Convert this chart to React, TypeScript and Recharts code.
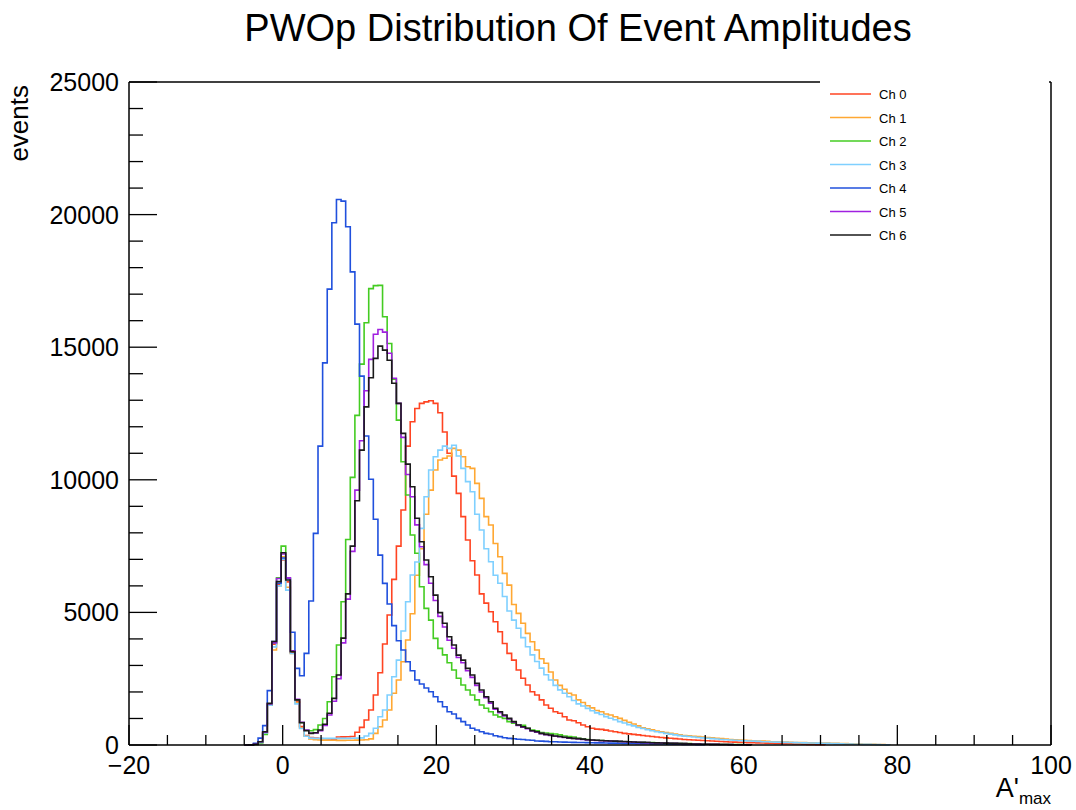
import React from 'react';
import { LineChart, Line, XAxis, YAxis, ReferenceLine } from 'recharts';

// bins of 0.6 starting at x = -5.0
const BIN = 0.6;
const START = -5.0;

const channels = ['Ch 0', 'Ch 1', 'Ch 2', 'Ch 3', 'Ch 4', 'Ch 5', 'Ch 6'];
const colors = ['#ff4422', '#ffa833', '#44cc22', '#7fd0ff', '#2050dd', '#a020e0', '#1a1a1a'];

const ch0 = [
  0, 5, 25, 100, 450, 1500, 3800, 6050, 6975, 6150,
  3480, 1650, 700, 360, 280, 260, 245, 235, 225, 215,
  300, 305, 310, 320, 480, 665, 940, 1320, 1885, 2725,
  3810, 4900, 6245, 7500, 8860, 11270, 12190, 12690, 12880, 12940,
  12980, 12880, 12530, 11800, 11000, 10140, 9490, 8610, 7730, 6950,
  6410, 5700, 5350, 5025, 4650, 4270, 3830, 3455, 3200, 2830,
  2515, 2260, 2010, 1885, 1700, 1510, 1385, 1255, 1195, 1065,
  940, 915, 840, 755, 690, 630, 600, 590, 560, 530,
  500, 470, 440, 420, 400, 380, 360, 340, 320, 300,
  285, 270, 255, 240, 225, 210, 200, 190, 180, 170,
  160, 150, 140, 130, 125, 115, 110, 100, 95, 90,
  85, 80, 75, 70, 65, 60, 55, 50, 45, 40,
  35, 30, 25, 20, 15, 10,
];

const ch1 = [
  0, 5, 25, 110, 470, 1550, 3580, 6000, 7100, 5950,
  3450, 1600, 650, 330, 230, 200, 190, 185, 180, 180,
  175, 175, 180, 180, 185, 190, 200, 230, 440, 690,
  940, 1320, 1950, 2450, 3140, 3960, 4950, 6400, 7400, 8700,
  9610, 10370, 10745, 10810, 10900, 11185, 11120, 10870, 10490, 10430,
  9865, 9300, 8610, 8295, 7600, 7100, 6470, 6030, 5300, 4965,
  4590, 4210, 3895, 3580, 3250, 3080, 2750, 2450, 2250, 2100,
  1950, 1885, 1700, 1600, 1480, 1400, 1300, 1255, 1170, 1130,
  1065, 1005, 930, 860, 790, 720, 650, 610, 570, 530,
  500, 470, 440, 410, 380, 360, 345, 330, 315, 300,
  285, 270, 255, 240, 225, 210, 200, 190, 180, 170,
  160, 150, 145, 135, 125, 120, 115, 110, 100, 95,
  90, 88, 85, 80, 78, 75, 70, 65, 60, 55,
  50, 45, 40, 35, 30, 28, 25, 20, 15, 10,
];

const ch2 = [
  0, 5, 20, 80, 400, 1500, 3850, 6300, 7500, 6300,
  3550, 1700, 850, 560, 540, 580, 755, 1000, 1630, 2575,
  3770, 5400, 7750, 10090, 12430, 14360, 15920, 17210, 17320, 17330,
  16150, 15140, 13790, 12250, 10680, 9425, 7920, 7230, 5970, 5150,
  4710, 4020, 3645, 3400, 3100, 2830, 2515, 2260, 2075, 1885,
  1700, 1510, 1385, 1255, 1130, 1060, 1005, 880, 820, 755,
  740, 630, 565, 540, 465, 450, 430, 415, 380, 340,
  320, 300, 250, 230, 210, 190, 180, 170, 160, 150,
  140, 130, 125, 120, 110, 105, 100, 95, 90, 85,
  80, 75, 70, 65, 60, 55, 50, 45, 40, 35,
  32, 30, 28, 25, 22, 20, 18, 15, 12, 10,
];

const ch3 = [
  0, 5, 25, 100, 450, 1500, 3700, 6000, 7000, 5840,
  3450, 1550, 620, 330, 260, 250, 250, 250, 250, 250,
  250, 250, 250, 255, 260, 270, 340, 440, 630, 1065,
  1320, 1885, 2575, 3200, 4300, 5400, 6410, 6900, 8170, 9360,
  10370, 10870, 11120, 11270, 11185, 11300, 10900, 10430, 9930, 9550,
  8700, 8105, 7400, 6910, 6400, 6100, 5600, 5050, 4710, 4400,
  4050, 3705, 3400, 3150, 2900, 2650, 2450, 2250, 2080, 1950,
  1820, 1680, 1550, 1470, 1380, 1290, 1210, 1150, 1070, 1010,
  950, 880, 830, 770, 720, 660, 620, 580, 540, 500,
  470, 440, 410, 380, 355, 335, 320, 300, 285, 270,
  255, 240, 225, 210, 200, 190, 180, 170, 160, 150,
  145, 135, 125, 120, 115, 110, 105, 100, 95, 90,
  85, 80, 78, 75, 70, 65, 60, 55, 50, 45,
  40, 35, 30, 28, 25, 22, 20, 15, 10, 5,
];

const ch4 = [
  0, 10, 60, 260, 730, 2050, 3900, 6100, 7050, 6280,
  4250, 2890, 2610, 3455, 5430, 7980, 11270, 14410, 17190, 19690,
  20570, 20510, 19540, 17840, 15870, 13910, 11650, 10020, 8510, 7160,
  6095, 5315, 4500, 3930, 3580, 3140, 2800, 2450, 2300, 2150,
  2010, 1820, 1630, 1445, 1255, 1170, 1005, 880, 755, 630,
  565, 500, 440, 415, 350, 315, 275, 250, 238, 215,
  205, 190, 180, 150, 145, 135, 125, 120, 115, 110,
  105, 100, 95, 92, 90, 85, 82, 80, 75, 72,
  70, 65, 62, 60, 55, 52, 50, 45, 42, 40,
  38, 35, 32, 30, 28, 25, 22, 20, 15, 10,
];

const ch5 = [
  0, 5, 30, 120, 480, 1550, 3850, 6280, 7200, 6300,
  3550, 1720, 860, 560, 450, 450, 540, 740, 1130, 1650,
  2500, 3850, 5500, 7300, 9610, 11470, 13360, 14540, 15490, 15670,
  15570, 14770, 13830, 12880, 11600, 10200, 9360, 8300, 7475, 6800,
  6100, 5450, 4850, 4450, 3950, 3650, 3300, 3100, 2800, 2550,
  2250, 2000, 1780, 1580, 1350, 1220, 1100, 980, 860, 740,
  670, 610, 530, 480, 430, 390, 360, 330, 310, 280,
  260, 245, 230, 210, 195, 180, 170, 160, 150, 145,
  140, 130, 125, 115, 110, 100, 95, 90, 85, 80,
  75, 70, 65, 60, 55, 50, 45, 40, 35, 30,
  28, 25, 22, 20, 18, 15, 12, 10, 8, 5,
];

const ch6 = [
  0, 5, 30, 125, 500, 1570, 3900, 6160, 7250, 6220,
  3520, 1700, 840, 540, 440, 460, 565, 780, 1195, 1760,
  2640, 4030, 5700, 7500, 9210, 11120, 12750, 13850, 14580, 15040,
  14890, 14510, 13640, 12880, 11750, 10590, 9740, 8550, 7665, 6975,
  6345, 5650, 4990, 4590, 4080, 3770, 3390, 3200, 2890, 2640,
  2325, 2075, 1820, 1630, 1385, 1255, 1130, 1005, 880, 755,
  690, 630, 540, 500, 440, 400, 375, 340, 320, 290,
  270, 250, 240, 220, 200, 190, 180, 170, 160, 150,
  145, 135, 130, 120, 115, 105, 100, 95, 85, 80,
  75, 70, 65, 60, 55, 50, 45, 40, 35, 30,
  28, 25, 22, 20, 18, 15, 12, 10, 8, 5,
];

const series = [ch0, ch1, ch2, ch3, ch4, ch5, ch6];

const xTicks = [-20, -15, -10, -5, 0, 5, 10, 15, 20, 25, 30, 35, 40, 45, 50, 55, 60, 65, 70, 75, 80, 85, 90, 95, 100];
const yTicks = [
  0, 1000, 2000, 3000, 4000, 5000, 6000, 7000, 8000, 9000, 10000, 11000, 12000,
  13000, 14000, 15000, 16000, 17000, 18000, 19000, 20000, 21000, 22000, 23000, 24000, 25000,
];

const FONT = "'Liberation Sans', Arial, Helvetica, sans-serif";

function toSteps(values: number[]) {
  const pts = values.map((v, i) => ({ x: START + i * BIN, y: v }));
  pts.push({ x: START + values.length * BIN, y: 0 });
  return pts;
}

const XTick = (props: any) => {
  const { x, y, payload } = props;
  const v = payload.value;
  const major = v % 20 === 0;
  const label = v < 0 ? '\u2212' + Math.abs(v) : String(v);
  return (
    <g>
      <line x1={x} x2={x} y1={y} y2={y - (major ? 20 : 10)} stroke="#000" strokeWidth={1.3} />
      {major && (
        <text x={x} y={y + 29} textAnchor="middle" fontSize={25} fontFamily={FONT} fill="#000">
          {label}
        </text>
      )}
    </g>
  );
};

const YTick = (props: any) => {
  const { x, y, payload } = props;
  const v = payload.value;
  const major = v % 5000 === 0;
  return (
    <g>
      <line x1={x} x2={x + (major ? 28 : 14)} y1={y} y2={y} stroke="#000" strokeWidth={1.3} />
      {major && (
        <text x={x - 10} y={y} dy="0.36em" textAnchor="end" fontSize={25} fontFamily={FONT} fill="#000">
          {v}
        </text>
      )}
    </g>
  );
};

export default function App() {
  return (
    <div style={{ position: 'relative', width: 1076, height: 810, background: '#fff' }}>
      <style>{'body{margin:0}'}</style>
      <LineChart width={1076} height={810} margin={{ top: 82, right: 25, bottom: 0, left: 0 }}>
        <XAxis
          dataKey="x"
          type="number"
          domain={[-20, 100]}
          ticks={xTicks}
          interval={0}
          height={65}
          tickSize={0}
          tickMargin={0}
          tickLine={false}
          tick={<XTick />}
          axisLine={{ stroke: '#000', strokeWidth: 1.5 }}
        />
        <YAxis
          type="number"
          domain={[0, 25000]}
          ticks={yTicks}
          interval={0}
          width={129}
          tickSize={0}
          tickMargin={0}
          tickLine={false}
          tick={<YTick />}
          axisLine={{ stroke: '#000', strokeWidth: 1.5 }}
        />
        <ReferenceLine y={25000} stroke="#000" strokeWidth={1.5} />
        <ReferenceLine x={100} stroke="#000" strokeWidth={1.5} />
        {series.map((vals, i) => (
          <Line
            key={channels[i]}
            data={toSteps(vals)}
            dataKey="y"
            type="stepAfter"
            stroke={colors[i]}
            strokeWidth={1.6}
            dot={false}
            activeDot={false}
            isAnimationActive={false}
          />
        ))}
      </LineChart>

      <svg
        width={1076}
        height={810}
        style={{ position: 'absolute', left: 0, top: 0, pointerEvents: 'none' }}
      >
        <text x={578} y={41} textAnchor="middle" fontSize={38} fontFamily={FONT} fill="#000">
          PWOp Distribution Of Event Amplitudes
        </text>
        <text
          x={28}
          y={85}
          textAnchor="end"
          fontSize={26}
          fontFamily={FONT}
          fill="#000"
          transform="rotate(-90 28 85)"
        >
          events
        </text>
        <text x={1051} y={797} textAnchor="end" fontFamily={FONT} fill="#000">
          <tspan fontSize={27}>A'</tspan>
          <tspan fontSize={17} dy={7}>max</tspan>
        </text>

        <rect x={820} y={76} width={229} height={174} fill="#fff" />
        {channels.map((name, i) => {
          const cy = 94 + i * 23.5;
          return (
            <g key={name}>
              <line x1={830} x2={871} y1={cy} y2={cy} stroke={colors[i]} strokeWidth={1.6} />
              <text x={879} y={cy + 5} fontSize={13} fontFamily={FONT} fill="#000">
                {name}
              </text>
            </g>
          );
        })}
      </svg>
    </div>
  );
}
